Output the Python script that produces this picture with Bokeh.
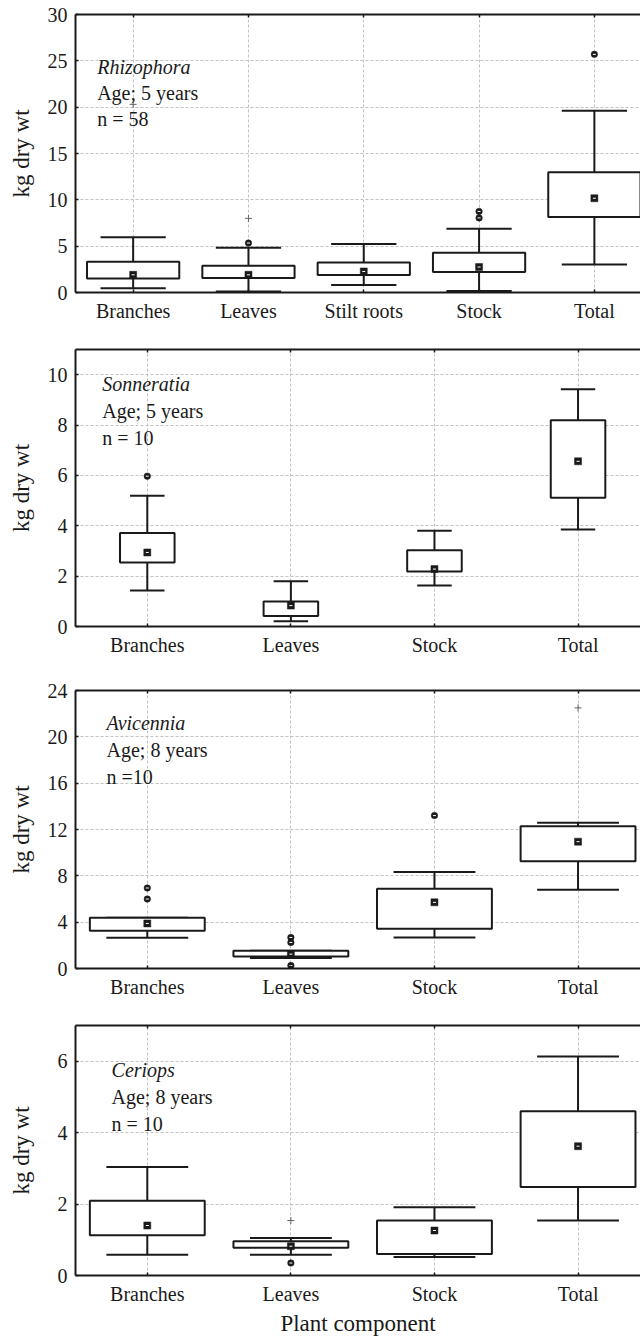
from bokeh.plotting import figure
from bokeh.layouts import column
from bokeh.models import Range1d, FixedTicker, LinearAxis
from bokeh.core.properties import value
from bokeh.embed import file_html
from bokeh.resources import INLINE

FONT = "Liberation Serif"
INK = "#1a1a1a"

# ---------------- data ----------------
# Panel 1: Rhizophora
rh_cats = ["Branches", "Leaves", "Stilt roots", "Stock", "Total"]
rh_q1 = [1.51, 1.56, 1.88, 2.20, 8.15]
rh_q3 = [3.32, 2.89, 3.25, 4.29, 12.98]
rh_lo = [0.47, 0.11, 0.80, 0.15, 3.03]
rh_hi = [5.95, 4.83, 5.23, 6.89, 19.60]
rh_mid = [1.91, 1.91, 2.27, 2.75, 10.17]
rh_out_cat = ["Leaves", "Stock", "Stock", "Total"]
rh_out_val = [5.34, 8.05, 8.75, 25.70]
rh_ext_cat = ["Branches", "Leaves"]
rh_ext_val = [20.3, 8.0]
rh_text = ["Rhizophora", "Age; 5 years", "n = 58"]
rh_yticks = [0, 5, 10, 15, 20, 25, 30]

# Panel 2: Sonneratia
so_cats = ["Branches", "Leaves", "Stock", "Total"]
so_q1 = [2.54, 0.42, 2.18, 5.11]
so_q3 = [3.71, 0.99, 3.03, 8.19]
so_lo = [1.43, 0.21, 1.63, 3.85]
so_hi = [5.19, 1.80, 3.80, 9.42]
so_mid = [2.94, 0.83, 2.28, 6.56]
so_out_cat = ["Branches"]
so_out_val = [5.97]
so_ext_cat = []
so_ext_val = []
so_text = ["Sonneratia", "Age; 5 years", "n = 10"]
so_yticks = [0, 2, 4, 6, 8, 10]

# Panel 3: Avicennia
av_cats = ["Branches", "Leaves", "Stock", "Total"]
av_q1 = [3.26, 1.04, 3.43, 9.25]
av_q3 = [4.38, 1.53, 6.89, 12.27]
av_lo = [2.65, 0.90, 2.68, 6.80]
av_hi = [4.38, 1.53, 8.33, 12.59]
av_mid = [3.89, 1.24, 5.71, 10.95]
av_out_cat = ["Branches", "Branches", "Leaves", "Leaves", "Leaves", "Stock"]
av_out_val = [6.95, 6.00, 2.68, 2.25, 0.26, 13.20]
av_ext_cat = ["Total"]
av_ext_val = [22.5]
av_text = ["Avicennia", "Age; 8 years", "n =10"]
av_yticks = [0, 4, 8, 12, 16, 20, 24]

# Panel 4: Ceriops
ce_cats = ["Branches", "Leaves", "Stock", "Total"]
ce_q1 = [1.13, 0.78, 0.60, 2.48]
ce_q3 = [2.09, 0.96, 1.54, 4.60]
ce_lo = [0.58, 0.58, 0.52, 1.54]
ce_hi = [3.04, 1.05, 1.91, 6.13]
ce_mid = [1.40, 0.82, 1.26, 3.62]
ce_out_cat = ["Leaves"]
ce_out_val = [0.35]
ce_ext_cat = ["Leaves"]
ce_ext_val = [1.54]
ce_text = ["Ceriops", "Age; 8 years", "n = 10"]
ce_yticks = [0, 2, 4, 6]


def panel(cats, q1, q3, lo, hi, mid, out_cat, out_val, ext_cat, ext_val,
          text, yticks, ymax, xmax, box_w, cap_w, text_x, text_y,
          height, b_top, b_bottom, ylab_standoff, xlabel=None):
    p = figure(width=640, height=height,
               x_range=Range1d(-0.5, xmax), y_range=Range1d(0, ymax),
               output_backend="svg", toolbar_location=None,
               min_border_left=75, min_border_right=0,
               min_border_top=b_top, min_border_bottom=b_bottom)
    p.outline_line_color = None
    p.background_fill_color = "white"
    p.border_fill_color = "white"

    n = len(cats)
    xs = list(range(n))

    xa = p.xaxis[0]
    xa.ticker = FixedTicker(ticks=xs)
    xa.major_label_overrides = {i: c for i, c in enumerate(cats)}
    xa.major_label_text_font = FONT
    xa.major_label_text_font_size = "20px"
    xa.major_label_text_color = INK
    xa.major_label_standoff = 7
    xa.major_tick_in = 3
    xa.major_tick_out = 0
    xa.major_tick_line_color = INK
    xa.major_tick_line_width = 1.5
    xa.minor_tick_line_color = None
    xa.axis_line_width = 2
    xa.axis_line_color = INK
    if xlabel:
        xa.axis_label = xlabel
        xa.axis_label_text_font = FONT
        xa.axis_label_text_font_size = "23px"
        xa.axis_label_text_font_style = "normal"
        xa.axis_label_text_color = INK
        xa.axis_label_standoff = 3

    ya = p.yaxis[0]
    ya.ticker = FixedTicker(ticks=yticks)
    ya.major_label_text_font = FONT
    ya.major_label_text_font_size = "20px"
    ya.major_label_text_color = INK
    ya.major_label_standoff = 8
    ya.major_tick_in = 3
    ya.major_tick_out = 0
    ya.major_tick_line_color = INK
    ya.major_tick_line_width = 1.5
    ya.minor_tick_line_color = None
    ya.axis_line_width = 2
    ya.axis_line_color = INK
    ya.axis_label = "kg dry wt"
    ya.axis_label_text_font = FONT
    ya.axis_label_text_font_size = "23px"
    ya.axis_label_text_font_style = "normal"
    ya.axis_label_text_color = INK
    ya.axis_label_standoff = ylab_standoff

    # top frame edge with small inward category ticks (no labels)
    top = LinearAxis(ticker=FixedTicker(ticks=xs),
                     major_label_text_font_size="0px",
                     major_label_text_color=None,
                     major_label_standoff=0, major_tick_in=3, major_tick_out=0,
                     major_tick_line_color=INK, major_tick_line_width=1.5,
                     minor_tick_line_color=None,
                     axis_line_width=2, axis_line_color=INK)
    p.add_layout(top, "above")

    for g in (p.xgrid[0], p.ygrid[0]):
        g.grid_line_color = "#c2c2c2"
        g.grid_line_dash = "3 2"
        g.grid_line_width = 1

    # whiskers
    p.segment(x0=xs, y0=q3, x1=xs, y1=hi, line_color=INK, line_width=2)
    p.segment(x0=xs, y0=lo, x1=xs, y1=q1, line_color=INK, line_width=2)
    # caps
    p.segment(x0=[x - cap_w / 2 for x in xs], y0=hi,
              x1=[x + cap_w / 2 for x in xs], y1=hi, line_color=INK, line_width=2)
    p.segment(x0=[x - cap_w / 2 for x in xs], y0=lo,
              x1=[x + cap_w / 2 for x in xs], y1=lo, line_color=INK, line_width=2)
    # boxes
    p.quad(left=[x - box_w / 2 for x in xs], right=[x + box_w / 2 for x in xs],
           bottom=q1, top=q3, fill_color="white", line_color=INK, line_width=2)
    # central markers: dark square with a tiny light centre
    p.scatter(x=xs, y=mid, marker="square", size=7, fill_color=INK,
              line_color=INK, line_width=0.5)
    p.scatter(x=xs, y=mid, marker="dash", size=3, line_color="white", line_width=1)
    # outliers: dark dots with a tiny light centre
    if out_val:
        ox = [cats.index(c) for c in out_cat]
        p.scatter(x=ox, y=out_val, marker="circle", size=6.5, fill_color=INK,
                  line_color=INK, line_width=0.5)
        p.scatter(x=ox, y=out_val, marker="dash", size=3, line_color="white",
                  line_width=1)
    # extremes
    if ext_val:
        p.scatter(x=[cats.index(c) for c in ext_cat], y=ext_val, marker="cross",
                  size=7, line_color="#666666", line_width=1)

    # annotation
    p.text(x=[text_x], y=[text_y[0]], text=[text[0]],
           text_font=value(FONT), text_font_size="20px", text_font_style="italic",
           text_color=INK, text_baseline="middle", text_align="left")
    p.text(x=[text_x, text_x], y=text_y[1:], text=text[1:],
           text_font=value(FONT), text_font_size="20px",
           text_color=INK, text_baseline="middle", text_align="left")
    return p


p1 = panel(rh_cats, rh_q1, rh_q3, rh_lo, rh_hi, rh_mid, rh_out_cat, rh_out_val,
           rh_ext_cat, rh_ext_val, rh_text, rh_yticks, 30, 4.40, 0.80, 0.566,
           -0.312, [24.30, 21.49, 18.68], 335, 14, 43, 11)
p2 = panel(so_cats, so_q1, so_q3, so_lo, so_hi, so_mid, so_out_cat, so_out_val,
           so_ext_cat, so_ext_val, so_text, so_yticks, 11, 3.435, 0.38, 0.24,
           -0.314, [9.63, 8.56, 7.49], 334, 14, 43, 11)
p3 = panel(av_cats, av_q1, av_q3, av_lo, av_hi, av_mid, av_out_cat, av_out_val,
           av_ext_cat, av_ext_val, av_text, av_yticks, 24, 3.435, 0.80, 0.57,
           -0.284, [21.21, 18.90, 16.57], 342, 21, 43, 11)
p4 = panel(ce_cats, ce_q1, ce_q3, ce_lo, ce_hi, ce_mid, ce_out_cat, ce_out_val,
           ce_ext_cat, ce_ext_val, ce_text, ce_yticks, 7, 3.435, 0.80, 0.57,
           -0.249, [5.76, 5.00, 4.23], 329, 14, 65, 21, xlabel="Plant component")

layout = column(p1, p2, p3, p4, spacing=0)
open("out.html", "w").write(file_html(layout, INLINE))
